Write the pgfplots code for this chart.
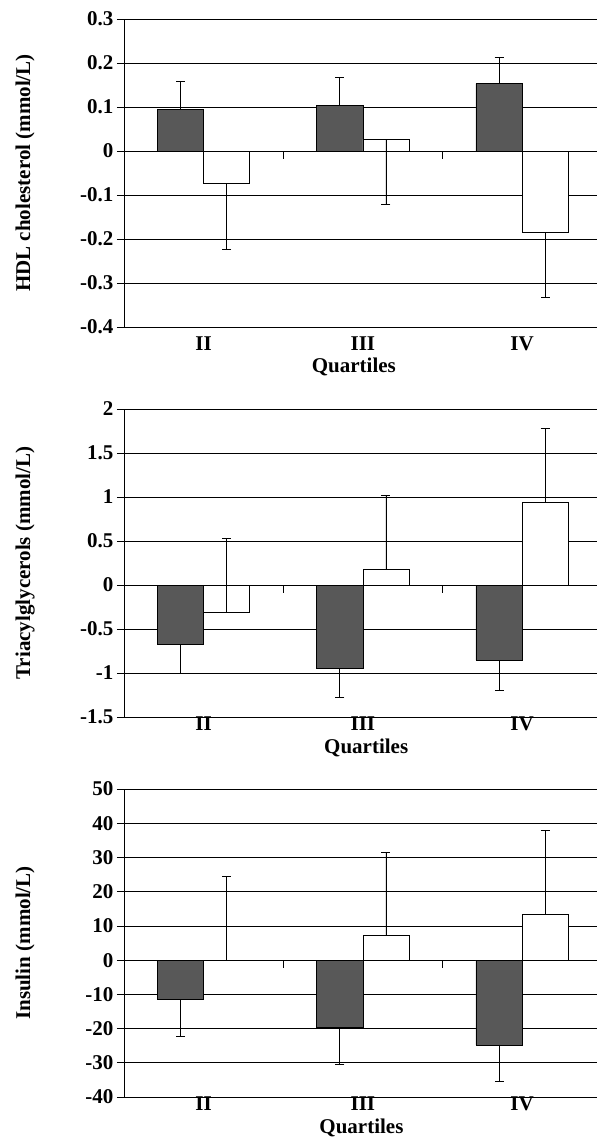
\documentclass[border=0pt]{standalone}
\usepackage{fontspec}
\setmainfont{Liberation Serif}
\usepackage{pgfplots}
\pgfplotsset{compat=1.18}
\definecolor{darkbar}{RGB}{88,88,88}
\pgfplotsset{
  panel/.style={
    scale only axis, width=473pt, height=308pt,
    anchor=south west,
    xmin=0, xmax=2.97,
    axis lines*=left,
    axis line style={-, black, line width=0.8pt},
    tick align=outside, major tick length=7pt,
    xtick={0.5,1.5,2.5}, xticklabels={II,III,IV},
    xtick style={draw=none},
    ytick style={black, line width=0.8pt},
    ymajorgrids, major grid style={black, line width=0.7pt},
    font=\fontsize{21}{25}\selectfont\bfseries,
    /pgf/number format/assume math mode=true,
    clip=false,
  },
  dark/.style={ybar, bar width=0.29, bar shift=0, fill=darkbar, draw=black, line width=0.7pt,
    error bars/y explicit, error bars/error mark=-,
    error bars/error bar style={black, line width=0.8pt},
    error bars/error mark options={rotate=90, black, line width=0.8pt, mark size=4.5pt}},
  light/.style={ybar, bar width=0.29, bar shift=0, fill=white, draw=black, line width=0.7pt,
    error bars/y explicit, error bars/error mark=-,
    error bars/error bar style={black, line width=0.8pt},
    error bars/error mark options={rotate=90, black, line width=0.8pt, mark size=4.5pt}},
}
\begin{document}
\begin{tikzpicture}
\path[use as bounding box] (0,0) rectangle (597pt,-1138pt);
% Panel 1: HDL
\begin{axis}[panel, at={(124pt,-327pt)},
  ymin=-0.4, ymax=0.3, ytick={-0.4,-0.3,-0.2,-0.1,0,0.1,0.2,0.3},
  yticklabels={-0.4,-0.3,-0.2,-0.1,0,0.1,0.2,0.3},
  xticklabel style={anchor=center, yshift=-10pt},
  ylabel={HDL cholesterol (mmol/L)},
  ylabel style={at={(axis description cs:-0.209,0.5)}, anchor=center},
  xlabel={Quartiles},
  xlabel style={at={(axis description cs:0.486,0)}, anchor=center, yshift=-40pt}]
\addplot[dark, error bars/y dir=plus] coordinates {(0.355,0.095) +- (0,0.063) (1.355,0.103) +- (0,0.064) (2.355,0.153) +- (0,0.060)};
\addplot[light, error bars/y dir=minus] coordinates {(0.645,-0.073) +- (0,0.150) (1.645,0.027) +- (0,0.149) (2.645,-0.185) +- (0,0.148)};
\addplot[black, line width=0.8pt, no marks] coordinates {(1,0) (1,-0.018)};
\addplot[black, line width=0.8pt, no marks] coordinates {(2,0) (2,-0.018)};
\end{axis}
% Panel 2: Triacylglycerols
\begin{axis}[panel, at={(124pt,-717pt)},
  ymin=-1.5, ymax=2, ytick={-1.5,-1,-0.5,0,0.5,1,1.5,2},
  yticklabels={-1.5,-1,-0.5,0,0.5,1,1.5,2},
  xticklabel style={anchor=center, yshift=0pt},
  ylabel={Triacylglycerols (mmol/L)},
  ylabel style={at={(axis description cs:-0.209,0.5)}, anchor=center},
  xlabel={Quartiles},
  xlabel style={at={(axis description cs:0.512,0)}, anchor=center, yshift=-31pt}]
\addplot[dark, error bars/y dir=minus] coordinates {(0.355,-0.672) +- (0,0.334) (1.355,-0.945) +- (0,0.334) (2.355,-0.854) +- (0,0.342)};
\addplot[light, error bars/y dir=plus] coordinates {(0.645,-0.311) +- (0,0.843) (1.645,0.178) +- (0,0.836) (2.645,0.934) +- (0,0.847)};
\addplot[black, line width=0.8pt, no marks] coordinates {(1,0) (1,-0.09)};
\addplot[black, line width=0.8pt, no marks] coordinates {(2,0) (2,-0.09)};
\end{axis}
% Panel 3: Insulin
\begin{axis}[panel, at={(124pt,-1097pt)},
  ymin=-40, ymax=50, ytick={-40,-30,-20,-10,0,10,20,30,40,50},
  yticklabels={-40,-30,-20,-10,0,10,20,30,40,50},
  xticklabel style={anchor=center, yshift=0pt},
  ylabel={Insulin (mmol/L)},
  ylabel style={at={(axis description cs:-0.209,0.5)}, anchor=center},
  xlabel={Quartiles},
  xlabel style={at={(axis description cs:0.502,0)}, anchor=center, yshift=-31pt}]
\addplot[dark, error bars/y dir=minus] coordinates {(0.355,-11.6) +- (0,10.7) (1.355,-19.7) +- (0,10.8) (2.355,-24.8) +- (0,10.6)};
\addplot[light, error bars/y dir=plus] coordinates {(0.645,0) +- (0,24.5) (1.645,7.2) +- (0,24.3) (2.645,13.3) +- (0,24.5)};
\addplot[black, line width=0.8pt, no marks] coordinates {(1,0) (1,-2.3)};
\addplot[black, line width=0.8pt, no marks] coordinates {(2,0) (2,-2.3)};
\end{axis}
\end{tikzpicture}
\end{document}
